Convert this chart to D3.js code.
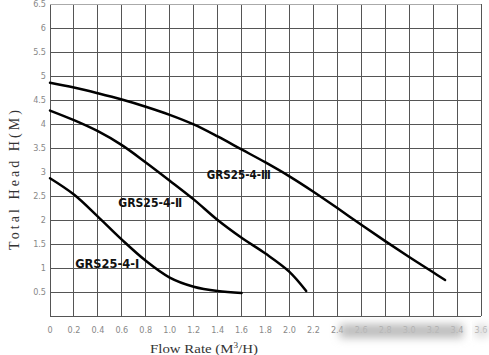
<!DOCTYPE html>
<html><head><meta charset="utf-8">
<script src="https://cdn.jsdelivr.net/npm/d3@7"></script>
<style>html,body{margin:0;padding:0;background:#fff;}svg{display:block;}</style>
</head><body>
<script>
// Data
const xTicks = [0,0.2,0.4,0.6,0.8,1.0,1.2,1.4,1.6,1.8,2.0,2.2,2.4,2.6,2.8,3.0,3.2,3.4,3.6];
const yTicks = [0.5,1,1.5,2,2.5,3,3.5,4,4.5,5,5.5,6,6.5];
const flowI   = [0, 0.2, 0.4, 0.6, 0.8, 1.0, 1.2, 1.4, 1.6];
const headI   = [2.87, 2.53, 2.07, 1.59, 1.15, 0.8, 0.61, 0.52, 0.48];
const flowII  = [0, 0.2, 0.4, 0.6, 0.8, 1.0, 1.2, 1.4, 1.6, 1.8, 2.0, 2.14];
const headII  = [4.28, 4.08, 3.85, 3.56, 3.2, 2.82, 2.43, 2.0, 1.63, 1.3, 0.92, 0.52];
const flowIII = [0, 0.2, 0.4, 0.6, 0.8, 1.0, 1.2, 1.4, 1.6, 1.8, 2.0, 2.2, 2.4, 2.6, 2.8, 3.0, 3.2, 3.3];
const headIII = [4.86, 4.76, 4.64, 4.51, 4.36, 4.19, 3.99, 3.74, 3.47, 3.2, 2.91, 2.59, 2.25, 1.9, 1.56, 1.23, 0.91, 0.75];
const seriesNames = ["GRS25-4-Ⅰ", "GRS25-4-Ⅱ", "GRS25-4-Ⅲ"];
const labelAt = [[0.21, 1.0], [0.57, 2.28], [1.31, 2.85]]; // data coords of label left/baseline

const W = 489, H = 355;
const m = {l:50, t:4, r:8, b:39};
const svg = d3.select("body").append("svg").attr("width", W).attr("height", H);
const x = d3.scaleLinear().domain([0, 3.6]).range([m.l, W - m.r]);
const y = d3.scaleLinear().domain([0, 6.5]).range([H - m.b, m.t]);

const defs = svg.append("defs");
defs.append("filter").attr("id","blur").attr("x","-20%").attr("y","-100%").attr("width","140%").attr("height","300%")
  .append("feGaussianBlur").attr("stdDeviation", 4);

// grid
const g = svg.append("g");
g.selectAll("line.v").data(xTicks).join("line")
  .attr("x1", d => x(d)).attr("x2", d => x(d)).attr("y1", y(6.5)).attr("y2", y(0))
  .attr("stroke", "#555").attr("stroke-width", 1).attr("shape-rendering","crispEdges");
g.selectAll("line.h").data([0].concat(yTicks)).join("line")
  .attr("x1", x(0)).attr("x2", x(3.6)).attr("y1", d => y(d)).attr("y2", d => y(d))
  .attr("stroke", d => d === 6.5 ? "#aaa" : "#555").attr("stroke-width", 1).attr("shape-rendering","crispEdges");

// tick labels
const tickFont = "'DejaVu Sans Condensed', 'Liberation Sans Narrow', sans-serif";
const fx = d => d === 0 ? "0" : d3.format(".1f")(d);
svg.append("g").selectAll("text").data(xTicks).join("text")
  .attr("x", d => x(d)).attr("y", y(0) + 17).attr("text-anchor","middle")
  .attr("font-family", tickFont).attr("font-size", 9).attr("font-weight", 300).attr("fill", "#888")
  .text(fx);
svg.append("g").selectAll("text").data(yTicks).join("text")
  .attr("x", x(0) - 4).attr("y", d => y(d) + 3).attr("text-anchor","end")
  .attr("font-family", tickFont).attr("font-size", 9).attr("fill", "#888")
  .text(d => d3.format("")(d));

// watermark blur over part of the x tick labels
svg.append("rect").attr("x", x(2.42)).attr("y", y(0) + 8).attr("width", x(3.45) - x(2.42)).attr("height", 14)
  .attr("fill", "#bdbdbd").attr("filter","url(#blur)");
svg.append("rect").attr("x", x(3.55)).attr("y", y(0) + 9).attr("width", 14).attr("height", 12)
  .attr("fill", "#dcdcdc").attr("filter","url(#blur)");

// curves
const line = d3.line().x(d => x(d[0])).y(d => y(d[1])).curve(d3.curveCatmullRom.alpha(0.5));
const data = [d3.zip(flowI, headI), d3.zip(flowII, headII), d3.zip(flowIII, headIII)];
svg.append("g").selectAll("path").data(data).join("path")
  .attr("d", line).attr("fill","none").attr("stroke","#000").attr("stroke-width", 2.5)
  .attr("stroke-linecap","round");

// series labels
svg.append("g").selectAll("text").data(seriesNames).join("text")
  .attr("x", (d,i) => x(labelAt[i][0])).attr("y", (d,i) => y(labelAt[i][1]))
  .attr("font-family", "'DejaVu Sans Condensed', 'Noto Sans CJK SC', sans-serif")
  .attr("font-weight", "bold").attr("font-size", 13).attr("fill", "#111")
  .attr("textLength", 64).attr("lengthAdjust","spacingAndGlyphs")
  .text(d => d);

// axis titles
svg.append("text").attr("x", 150).attr("y", 353)
  .attr("font-family", "'Liberation Serif', serif").attr("font-size", 13).attr("fill","#333")
  .attr("textLength", 108).attr("lengthAdjust","spacingAndGlyphs")
  .html("Flow Rate (M<tspan dy='-5' font-size='8'>3</tspan><tspan dy='5'>/H)</tspan>");
svg.append("text").attr("transform", "translate(19,180) rotate(-90)").attr("text-anchor","middle")
  .attr("font-family", "'Liberation Serif', serif").attr("font-size", 14).attr("fill","#333")
  .attr("textLength", 140).attr("lengthAdjust","spacing")
  .text("Total Head H(M)");
</script>
</body></html>
